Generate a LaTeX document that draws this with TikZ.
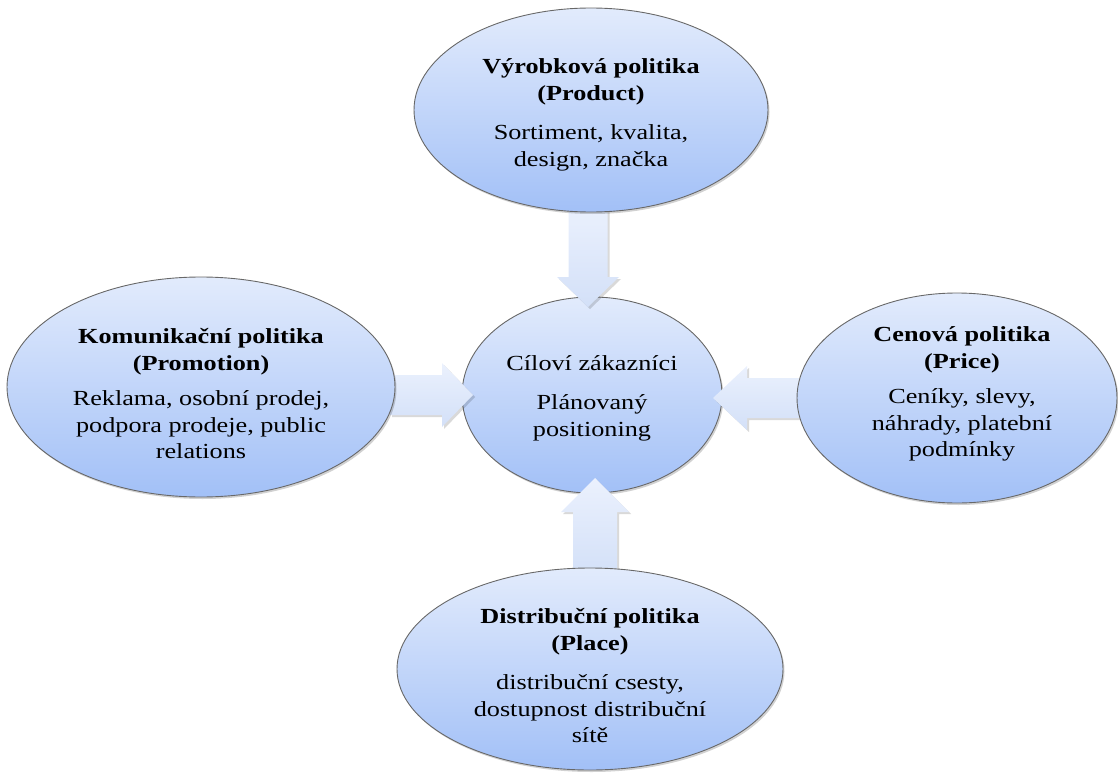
\documentclass[tikz,border=0pt]{standalone}
\usepackage{fontspec}
\setmainfont[FakeStretch=1.22]{Liberation Serif}
\usetikzlibrary{calc,shadows,shapes.geometric}

\definecolor{ellTop}{HTML}{E2EBFC}
\definecolor{ellBot}{HTML}{A2C0F7}
\definecolor{ellLine}{HTML}{686868}
\definecolor{arrTop}{HTML}{EBF1FD}
\definecolor{arrBot}{HTML}{D3E0F8}

\tikzset{
  mixbubble/.style={ellipse, draw=ellLine, line width=0.9pt, inner sep=0pt,
    top color=ellTop, bottom color=ellBot,
    drop shadow={shadow xshift=1.5pt, shadow yshift=-2pt, opacity=0.18, fill=black}},
  bubbletext/.style={align=center, inner sep=0pt,
    font=\fontsize{21.5}{26.5}\selectfont},
  blockarrow/.style={top color=arrTop, bottom color=arrBot,
    drop shadow={shadow xshift=2pt, shadow yshift=-2pt, opacity=0.15, fill=black}},
}

\begin{document}
\begin{tikzpicture}[x=1pt,y=-1pt]
\useasboundingbox (0,0) rectangle (1118,773);

% central bubble
\node[mixbubble, minimum width=260pt, minimum height=196pt] (core) at (592,395) {};
\node[bubbletext] (coreT) at ($(core.center)+(0,3)$)
  {Cíloví zákazníci\\[13pt] Plánovaný\\ positioning};

% block arrows pointing at the central bubble
\coordinate (prodTail) at (588,205);  \coordinate (prodTip) at (588,307);
\coordinate (placeTail) at (595,575); \coordinate (placeTip) at (595,478);
\coordinate (promTail) at (390,395);  \coordinate (promTip) at (473,395);
\coordinate (priceTail) at (805,398); \coordinate (priceTip) at (713,398);

\shade[blockarrow] ($(prodTail)+(-19.5,0)$) -- ($(prodTip)+(-19.5,-30)$) -- ($(prodTip)+(-31,-30)$)
  -- (prodTip) -- ($(prodTip)+(31,-30)$) -- ($(prodTip)+(19.5,-30)$) -- ($(prodTail)+(19.5,0)$) -- cycle;
\shade[blockarrow] ($(placeTail)+(-22,0)$) -- ($(placeTip)+(-22,34)$) -- ($(placeTip)+(-34,34)$)
  -- (placeTip) -- ($(placeTip)+(34,34)$) -- ($(placeTip)+(22,34)$) -- ($(placeTail)+(22,0)$) -- cycle;
\shade[blockarrow] ($(promTail)+(0,-20)$) -- ($(promTip)+(-31,-20)$) -- ($(promTip)+(-31,-32)$)
  -- (promTip) -- ($(promTip)+(-31,32)$) -- ($(promTip)+(-31,20)$) -- ($(promTail)+(0,20)$) -- cycle;
\shade[blockarrow] ($(priceTail)+(0,-20)$) -- ($(priceTip)+(34,-20)$) -- ($(priceTip)+(34,-32)$)
  -- (priceTip) -- ($(priceTip)+(34,32)$) -- ($(priceTip)+(34,20)$) -- ($(priceTail)+(0,20)$) -- cycle;

% the four policy bubbles
\node[mixbubble, minimum width=354pt, minimum height=204pt] (prod) at (591,110) {};
\node[bubbletext] (prodT) at ($(prod.center)+(0,5)$)
  {\textbf{Výrobková politika}\\ \textbf{(Product)}\\[13pt] Sortiment, kvalita,\\ design, značka};

\node[mixbubble, minimum width=388pt, minimum height=220pt] (prom) at (201,387) {};
\node[bubbletext] (promT) at ($(prom.center)+(0,7)$)
  {\textbf{Komunikační politika}\\ \textbf{(Promotion)}\\[9pt] Reklama, osobní prodej,\\ podpora prodeje, public\\ relations};

\node[mixbubble, minimum width=320pt, minimum height=210pt] (price) at (957,398) {};
\node[bubbletext] (priceT) at ($(price.center)+(5,-4)$)
  {\textbf{Cenová politika}\\ \textbf{(Price)}\\[9pt] Ceníky, slevy,\\ náhrady, platební\\ podmínky};

\node[mixbubble, minimum width=386pt, minimum height=202pt] (place) at (590,669) {};
\node[bubbletext] (placeT) at ($(place.center)+(0,7)$)
  {\textbf{Distribuční politika}\\ \textbf{(Place)}\\[13pt] distribuční csesty,\\ dostupnost distribuční\\ sítě};
\end{tikzpicture}
\end{document}
